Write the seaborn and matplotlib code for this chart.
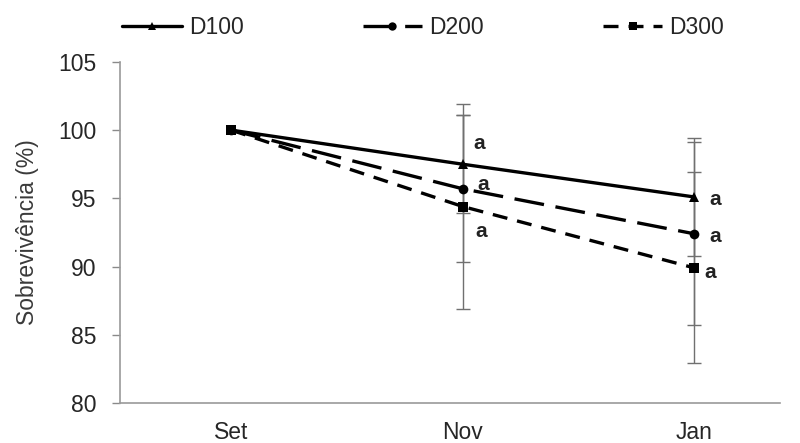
import matplotlib
matplotlib.use("Agg")
import matplotlib.pyplot as plt
import seaborn as sns
import pandas as pd
from matplotlib.lines import Line2D

months = ["Set", "Nov", "Jan"]
series = ["D100", "D200", "D300"]
d100 = [100.0, 97.5, 95.1]
d200 = [100.0, 95.7, 92.4]
d300 = [100.0, 94.4, 89.9]
err100 = [0.0, 3.6, 4.3]
err200 = [0.0, 5.4, 6.7]
err300 = [0.0, 7.5, 7.0]
letters = ["a", "a", "a"]
yticks = [80, 85, 90, 95, 100, 105]

sns.set_theme(style="white")
plt.rcParams["font.family"] = ["Liberation Sans", "DejaVu Sans"]

rows = []
for name, vals, errs in zip(series, [d100, d200, d300], [err100, err200, err300]):
    for i, (m, v, e) in enumerate(zip(months, vals, errs)):
        rows.append({"serie": name, "mes": m, "pos": i, "valor": v, "erro": e})
df = pd.DataFrame(rows)

fig = plt.figure(figsize=(8, 4.43), dpi=100)
ax = fig.add_axes([0.15, 0.0903, 0.825, 0.770])

styles = {
    "D100": dict(marker="^", dashes=None),
    "D200": dict(marker="o", dashes=(9, 3.5)),
    "D300": dict(marker="s", dashes=(4.5, 3)),
}

# error bars first (gray, behind)
for name in series:
    sub = df[df.serie == name]
    sub = sub[sub.erro > 0]
    ax.errorbar(sub.pos, sub.valor, yerr=sub.erro, fmt="none", ecolor="#707070",
                elinewidth=1.0, capsize=5, capthick=1.0, zorder=1)

handles = []
for name in series:
    sub = df[df.serie == name]
    st = styles[name]
    sns.lineplot(data=sub, x="pos", y="valor", ax=ax, color="black", linewidth=2.4,
                 marker=st["marker"], markersize=7, markeredgewidth=0,
                 estimator=None, errorbar=None, legend=False, zorder=3)
    line = ax.lines[-1]
    if st["dashes"] is not None:
        line.set_dashes(st["dashes"])
    h = Line2D([0], [0], color="black", linewidth=2.4, marker=st["marker"], markersize=6,
               markeredgewidth=0)
    if st["dashes"] is not None:
        h.set_dashes(st["dashes"])
    handles.append(h)

# significance letters
offsets = {
    ("D100", 1): (0.07, 1.5), ("D200", 1): (0.09, 0.35), ("D300", 1): (0.08, -1.8),
    ("D100", 2): (0.09, -0.2), ("D200", 2): (0.09, -0.2), ("D300", 2): (0.07, -0.3),
}
for name in series:
    sub = df[df.serie == name]
    for _, r in sub.iterrows():
        if r.pos == 0:
            continue
        dx, dy = offsets[(name, r.pos)]
        ax.text(r.pos + dx, r.valor + dy, letters[series.index(name)], fontsize=15,
                fontweight="bold", color="#222222", va="center", ha="center")

ax.set_xlim(-0.48, 2.37)
ax.set_ylim(80, 105)
ax.set_yticks(yticks)
ax.set_xticks(range(len(months)))
ax.set_xticklabels(months)
ax.tick_params(axis="both", labelsize=16.5, colors="#8a8a8a", labelcolor="#262626")
ax.tick_params(axis="y", length=6, width=1, direction="out", left=True, pad=11)
ax.tick_params(axis="x", length=0, pad=13)
ax.set_xlabel("")
ax.set_ylabel("Sobrevivência (%)", fontsize=16.5, color="#3a3a3a", labelpad=14)
for s in ["top", "right"]:
    ax.spines[s].set_visible(False)
for s in ["left", "bottom"]:
    ax.spines[s].set_color("#9a9a9a")
    ax.spines[s].set_linewidth(1.2)

fig.legend(handles, series, loc="upper left", bbox_to_anchor=(0.127, 1.01), ncol=3,
           frameon=False, fontsize=16.5, handlelength=2.6, handletextpad=0.3,
           columnspacing=5.2, labelcolor="#262626")

fig.savefig("out.png", dpi=100)
